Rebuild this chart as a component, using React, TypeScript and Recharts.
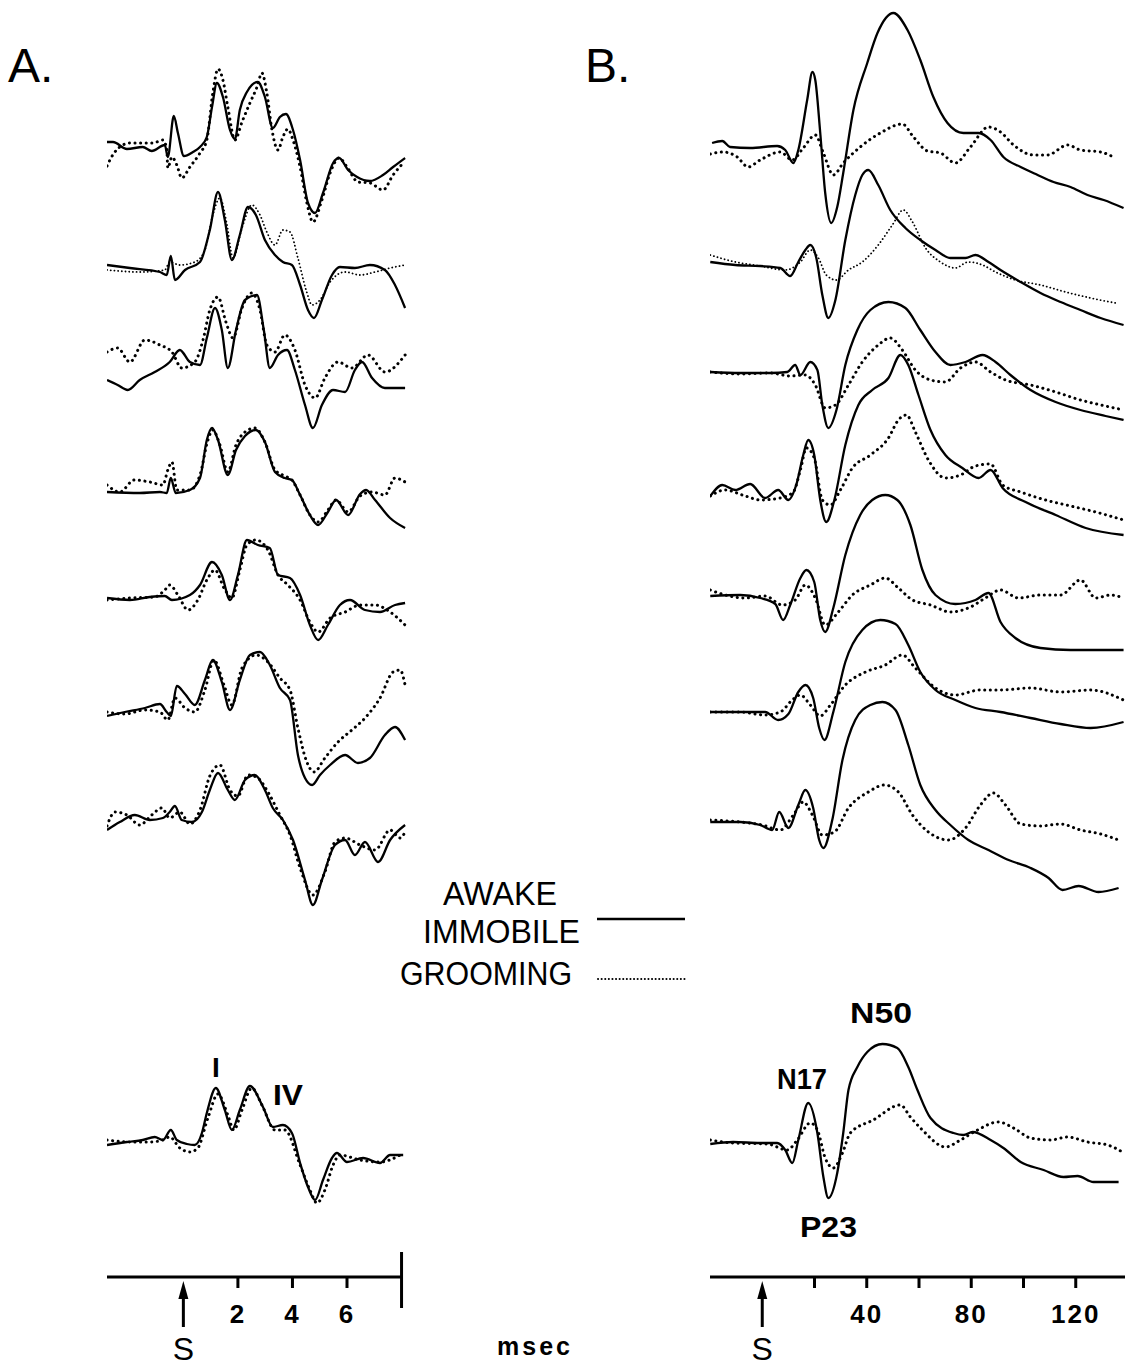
import React from "react";
import { LineChart, Line, XAxis, YAxis, ReferenceLine } from "recharts";

type Pt = [number, number];

// ---- Panel A: brainstem responses, time in msec, amplitude (positive up) ----
const A1_AWAKE: Pt[] = [[-2.8,3],[-2.58,3],[-2.07,-4],[-1.49,-2],[-1.16,-6],[-0.68,0],[-0.57,-12],[-0.35,29],[-0.2,12],[0.02,-11],[0.35,-7],[0.61,-2],[0.86,8],[1.05,38],[1.23,62],[1.45,48],[1.71,15],[1.89,6],[2.07,35],[2.33,53],[2.73,63],[2.99,48],[3.28,17],[3.54,28],[3.76,31],[4.02,15],[4.28,-15],[4.57,-58],[4.83,-68],[5.12,-48],[5.49,-18],[5.71,-13],[6.04,-25],[6.37,-32],[6.84,-36],[7.32,-30],[7.69,-22],[8.13,-13]];
const A1_GROOM: Pt[] = [[-2.8,-21],[-2.59,-10],[-2.33,-2],[-1.96,2],[-1.49,2],[-1.12,2],[-0.75,5],[-0.61,-4],[-0.57,-23],[-0.42,-12],[-0.24,-20],[-0.06,-33],[0.24,-22],[0.61,-8],[0.86,5],[1.08,52],[1.27,76],[1.45,65],[1.63,38],[1.89,5],[2.15,23],[2.44,42],[2.7,58],[2.88,72],[3.06,52],[3.25,15],[3.47,-5],[3.65,8],[3.83,16],[4.02,5],[4.28,-22],[4.53,-58],[4.75,-77],[5.08,-55],[5.38,-28],[5.71,-13],[6.0,-22],[6.4,-37],[6.84,-38],[7.32,-45],[7.69,-30],[8.06,-18]];
const A2_AWAKE: Pt[] = [[-2.8,3],[-1.96,0],[-0.86,-4],[-0.61,-7],[-0.46,12],[-0.31,-12],[0.06,-2],[0.61,6],[0.97,38],[1.27,76],[1.52,48],[1.78,8],[2.07,33],[2.37,61],[2.66,53],[2.99,28],[3.36,13],[3.65,6],[3.98,3],[4.28,-17],[4.57,-42],[4.79,-50],[5.08,-32],[5.45,-7],[5.74,1],[6.29,0],[6.84,3],[7.39,-2],[7.76,-17],[8.13,-40]];
const A2_GROOM: Pt[] = [[-2.8,-2],[-1.6,-4],[-0.68,-2],[-0.5,6],[-0.13,3],[0.42,6],[0.79,18],[1.08,53],[1.34,70],[1.6,43],[1.82,10],[2.15,40],[2.51,63],[2.81,53],[3.06,36],[3.36,23],[3.65,38],[3.91,36],[4.2,10],[4.5,-22],[4.72,-37],[5.01,-32],[5.38,-14],[5.93,-4],[6.48,-7],[7.03,-4],[7.58,0],[8.13,3]];
const A3_AWAKE: Pt[] = [[-2.8,-22],[-2.41,-27],[-2.04,-32],[-1.6,-22],[-1.05,-14],[-0.5,-4],[-0.13,8],[0.24,-4],[0.61,-7],[0.86,20],[1.16,50],[1.41,28],[1.63,-10],[1.93,28],[2.26,58],[2.7,63],[2.95,28],[3.17,-10],[3.47,3],[3.8,8],[4.09,-12],[4.46,-47],[4.75,-70],[5.08,-47],[5.49,-32],[5.93,-34],[6.29,-12],[6.55,-4],[6.92,-20],[7.39,-30],[8.13,-30]];
const A3_GROOM: Pt[] = [[-2.8,6],[-2.41,10],[-1.96,-4],[-1.41,18],[-0.86,13],[-0.42,6],[-0.06,-10],[0.42,-4],[0.72,18],[0.97,48],[1.27,61],[1.56,36],[1.82,20],[2.15,50],[2.51,65],[2.81,48],[3.06,13],[3.36,6],[3.72,23],[4.09,8],[4.46,-27],[4.83,-40],[5.19,-20],[5.67,-4],[6.18,-10],[6.77,3],[7.39,-14],[8.13,3]];
const A4_AWAKE: Pt[] = [[-2.8,-2],[-1.6,-3],[-0.86,-2],[-0.61,-3],[-0.46,12],[-0.28,-3],[0.24,0],[0.61,12],[0.86,50],[1.05,62],[1.27,50],[1.63,15],[1.93,40],[2.26,54],[2.66,60],[2.99,48],[3.36,18],[3.72,12],[3.98,10],[4.28,-5],[4.64,-25],[4.94,-35],[5.3,-22],[5.6,-10],[6.04,-25],[6.48,-4],[6.7,0],[7.03,-10],[7.58,-28],[8.13,-38]];
const A4_GROOM: Pt[] = [[-2.8,5],[-2.33,-2],[-1.8,10],[-1.23,8],[-0.75,5],[-0.57,20],[-0.42,28],[-0.24,0],[0.24,0],[0.61,15],[0.9,50],[1.08,60],[1.34,45],[1.63,18],[1.93,45],[2.26,58],[2.62,62],[2.99,48],[3.36,20],[3.72,14],[3.98,10],[4.28,-5],[4.64,-25],[4.94,-32],[5.3,-20],[5.6,-10],[6.04,-22],[6.48,-6],[6.92,-2],[7.39,-5],[7.76,12],[8.13,8]];
const A5_AWAKE: Pt[] = [[-2.8,0],[-1.96,-2],[-1.23,1],[-0.68,2],[-0.42,-2],[0.24,3],[0.61,13],[1.05,36],[1.41,23],[1.71,-2],[2.0,23],[2.33,58],[2.73,53],[3.17,50],[3.47,23],[3.91,20],[4.28,3],[4.64,-27],[4.94,-42],[5.3,-27],[5.74,-7],[6.11,-2],[6.66,-12],[7.21,-14],[7.76,-7],[8.13,-5]];
const A5_GROOM: Pt[] = [[-2.8,-2],[-1.96,0],[-1.05,1],[-0.68,8],[-0.5,13],[-0.2,3],[0.17,-12],[0.53,-2],[0.86,18],[1.16,28],[1.49,10],[1.78,0],[2.07,28],[2.33,53],[2.66,58],[3.1,48],[3.47,23],[3.83,13],[4.28,-2],[4.64,-24],[4.94,-34],[5.38,-20],[5.93,-14],[6.48,-7],[7.03,-7],[7.58,-14],[8.13,-27]];
const A6_AWAKE: Pt[] = [[-2.8,-4],[-2.15,0],[-1.41,4],[-0.86,8],[-0.61,0],[-0.46,-4],[-0.24,26],[0.06,18],[0.42,7],[0.79,32],[1.08,52],[1.41,30],[1.71,2],[2.07,32],[2.44,57],[2.81,60],[3.17,47],[3.54,24],[3.91,12],[4.2,-43],[4.46,-66],[4.72,-73],[5.01,-63],[5.38,-53],[5.93,-43],[6.4,-51],[6.84,-46],[7.39,-23],[7.76,-15],[8.13,-28]];
const A6_GROOM: Pt[] = [[-2.8,0],[-2.15,-2],[-1.41,2],[-0.86,0],[-0.57,-8],[-0.31,14],[0.06,4],[0.42,0],[0.79,22],[1.12,52],[1.49,27],[1.78,7],[2.15,44],[2.66,57],[3.1,50],[3.54,34],[3.91,22],[4.2,-16],[4.5,-48],[4.79,-60],[5.19,-46],[5.67,-30],[6.18,-18],[6.66,-6],[7.21,14],[7.69,40],[7.95,42],[8.13,27]];
const A7_AWAKE: Pt[] = [[-2.8,-12],[-2.33,-4],[-1.78,3],[-1.23,-2],[-0.75,0],[-0.5,6],[-0.31,12],[-0.06,-2],[0.31,-4],[0.68,6],[0.97,28],[1.27,45],[1.63,28],[1.89,18],[2.26,38],[2.62,43],[2.99,28],[3.28,10],[3.65,-2],[4.02,-22],[4.46,-62],[4.75,-87],[5.08,-62],[5.56,-27],[5.93,-22],[6.29,-37],[6.66,-24],[7.14,-44],[7.58,-22],[8.13,-7]];
const A7_GROOM: Pt[] = [[-2.8,-8],[-2.51,6],[-2.07,3],[-1.6,-7],[-1.16,3],[-0.79,10],[-0.5,0],[-0.13,6],[0.24,-6],[0.61,8],[0.97,42],[1.34,53],[1.71,28],[2.0,22],[2.37,43],[2.73,40],[3.1,26],[3.54,3],[3.91,-17],[4.28,-50],[4.75,-77],[5.19,-54],[5.56,-24],[5.93,-20],[6.48,-27],[7.03,-32],[7.58,-12],[7.95,-20],[8.13,-14]];
const A_AVG_AWAKE: Pt[] = [[-2.8,-3],[-2.07,0],[-1.49,2],[-1.05,5],[-0.75,2],[-0.46,12],[-0.24,2],[0.13,-2],[0.42,-3],[0.68,9],[0.86,29],[1.19,54],[1.52,32],[1.78,12],[2.07,32],[2.44,56],[2.92,35],[3.28,15],[3.65,17],[3.98,9],[4.28,-21],[4.57,-45],[4.83,-58],[5.12,-38],[5.45,-16],[5.63,-11],[6.0,-20],[6.59,-16],[7.21,-21],[7.58,-13],[8.06,-13]];
const A_AVG_GROOM: Pt[] = [[-2.8,2],[-1.96,0],[-1.23,0],[-0.75,2],[-0.5,5],[-0.13,-6],[0.24,-10],[0.53,-6],[0.9,24],[1.27,48],[1.63,27],[1.85,12],[2.15,32],[2.51,54],[2.88,37],[3.36,12],[3.72,12],[4.28,-23],[4.64,-48],[4.9,-61],[5.19,-48],[5.49,-23],[5.74,-13],[6.48,-18],[7.21,-20],[7.95,-13]];

// ---- Panel B: middle-latency responses, time in msec ----
const B1_AWAKE: Pt[] = [[-19.2,2],[-15.3,4],[-12.3,-2],[-4.6,-3],[5.7,-1],[8.8,-5],[11.9,-18],[13.8,-5],[17.2,45],[19.2,73],[20.3,65],[22.2,12],[24.1,-48],[26.4,-78],[28.7,-62],[31.0,-28],[34.9,35],[40.2,82],[44.1,112],[50.2,132],[55.6,115],[60.5,85],[65.5,48],[70.9,22],[77.0,12],[82.8,12],[87.4,5],[92.3,-12],[98.9,-22],[105.4,-30],[111.5,-37],[118.0,-42],[124.5,-50],[130.7,-55],[138.3,-63]];
const B1_GROOM: Pt[] = [[-19.9,-9],[-14.9,-7],[-9.6,-12],[-5.4,-22],[-0.8,-15],[6.9,-7],[11.5,-15],[15.7,-3],[20.3,10],[23.4,-8],[27.2,-30],[31.0,-18],[37.5,-2],[45.2,12],[53.6,21],[57.9,8],[63.2,-6],[68.2,-8],[73.9,-18],[79.7,-2],[86.6,18],[91.2,13],[96.2,0],[103.8,-10],[109.2,-10],[116.9,0],[121.8,-5],[129.5,-7],[135.2,-13]];
const B2_AWAKE: Pt[] = [[-19.9,0],[-10.3,-3],[-0.8,-4],[6.9,-6],[10.7,-14],[13.8,0],[16.5,12],[18.4,17],[20.7,4],[23.0,-33],[25.3,-56],[28.0,-38],[31.8,22],[35.6,67],[38.3,87],[40.6,92],[44.4,77],[49.0,52],[54.8,34],[60.5,22],[66.3,12],[72.0,4],[77.8,4],[81.6,7],[86.6,0],[91.2,-8],[98.9,-20],[106.5,-31],[114.2,-40],[121.8,-48],[129.5,-56],[138.3,-63]];
const B2_GROOM: Pt[] = [[-19.9,7],[-10.3,0],[-0.8,-4],[8.8,-8],[14.6,0],[18.4,12],[21.5,4],[24.5,-13],[28.4,-18],[33.0,-8],[38.3,0],[44.4,17],[49.8,37],[54.0,52],[57.5,40],[62.5,14],[68.2,0],[73.9,-6],[78.9,0],[84.3,-3],[89.3,-10],[96.9,-18],[106.5,-23],[116.1,-30],[125.7,-36],[135.2,-41]];
const B3_AWAKE: Pt[] = [[-19.9,0],[-8.4,-1],[3.1,-1],[9.6,0],[12.6,7],[14.6,-3],[18.4,10],[21.1,2],[23.0,-33],[25.3,-56],[28.4,-38],[31.8,7],[36.4,42],[41.4,62],[48.3,70],[54.8,64],[60.5,42],[66.3,20],[72.0,7],[77.8,10],[84.3,17],[89.3,10],[95.0,-3],[102.7,-18],[112.3,-30],[121.8,-38],[131.4,-44],[138.3,-48]];
const B3_GROOM: Pt[] = [[-19.9,0],[-8.4,-2],[3.1,-1],[10.7,-4],[16.5,-3],[20.3,-13],[24.1,-36],[28.0,-33],[33.0,-13],[38.3,10],[44.4,27],[49.0,34],[53.6,22],[58.6,2],[64.4,-8],[70.1,-10],[75.9,4],[81.6,10],[87.4,0],[93.1,-8],[102.7,-13],[112.3,-20],[121.8,-28],[131.4,-34],[138.3,-38]];
const B4_AWAKE: Pt[] = [[-19.9,-4],[-15.3,7],[-10.3,2],[-4.6,8],[1.1,-6],[6.1,2],[10.0,-8],[13.0,7],[15.7,37],[17.6,52],[19.9,37],[22.2,-8],[24.5,-30],[27.6,-8],[31.8,47],[36.8,87],[42.1,102],[48.3,114],[52.9,137],[55.9,127],[59.8,97],[64.4,62],[70.1,37],[76.6,24],[82.8,14],[87.4,22],[92.0,4],[100.8,-10],[112.3,-23],[123.8,-36],[138.3,-43]];
const B4_GROOM: Pt[] = [[-19.9,-4],[-14.2,2],[-6.5,-4],[-0.8,-8],[6.9,-6],[11.9,0],[14.6,22],[16.9,44],[19.9,34],[23.0,-8],[26.1,-13],[29.9,2],[34.5,24],[41.4,37],[48.3,54],[52.1,72],[55.2,77],[58.6,60],[63.6,32],[70.1,14],[75.9,17],[81.6,26],[87.4,28],[92.0,7],[98.9,0],[108.4,-8],[118.0,-14],[127.6,-20],[138.3,-28]];
const B5_AWAKE: Pt[] = [[-19.9,0],[-8.4,1],[-0.8,-2],[5.0,-8],[8.0,-24],[10.7,-9],[14.6,18],[16.9,26],[19.9,14],[22.2,-24],[24.1,-36],[27.2,-12],[31.8,41],[37.5,81],[42.1,96],[47.1,101],[51.7,96],[56.7,71],[61.3,26],[66.3,1],[73.9,-8],[81.6,-4],[86.6,3],[91.2,-26],[96.9,-42],[106.5,-52],[118.0,-54],[129.5,-54],[138.3,-54]];
const B5_GROOM: Pt[] = [[-19.9,6],[-14.2,1],[-6.5,-2],[1.1,0],[7.7,-9],[12.6,-4],[16.5,11],[20.3,-2],[24.1,-29],[29.1,-16],[34.5,1],[41.4,11],[47.1,18],[52.1,8],[57.5,-4],[64.4,-9],[72.0,-16],[79.7,-11],[85.4,-2],[91.2,6],[98.1,-2],[106.5,1],[114.2,1],[121.8,16],[127.6,-2],[133.3,1],[138.3,-2]];
const B6_AWAKE: Pt[] = [[-19.9,0],[-8.4,0],[1.1,0],[6.1,-8],[10.0,-2],[13.8,20],[16.5,27],[19.5,14],[21.8,-16],[23.8,-28],[27.2,0],[31.8,50],[38.3,82],[45.2,92],[51.0,88],[55.9,67],[60.5,40],[66.3,22],[73.9,12],[81.6,4],[91.2,0],[102.7,-6],[114.2,-12],[125.7,-16],[138.3,-10]];
const B6_GROOM: Pt[] = [[-19.9,0],[-8.4,0],[1.1,-3],[6.9,0],[11.5,12],[14.6,17],[18.4,7],[22.2,-4],[26.1,7],[31.8,27],[39.5,40],[47.1,47],[53.6,57],[58.6,44],[66.3,24],[73.9,17],[83.5,22],[91.2,22],[102.7,24],[114.2,20],[125.7,22],[138.3,12]];
const B7_AWAKE: Pt[] = [[-19.9,0],[-8.4,0],[-0.8,-3],[3.8,-8],[6.5,10],[10.0,-6],[13.8,17],[16.5,32],[19.5,14],[21.8,-18],[23.4,-26],[26.8,2],[30.7,62],[35.6,102],[41.4,117],[46.0,120],[51.0,112],[55.9,77],[60.5,37],[66.3,12],[72.0,-3],[78.9,-18],[86.6,-28],[94.3,-38],[102.7,-46],[109.6,-56],[114.9,-68],[121.1,-64],[128.7,-70],[136.4,-66]];
const B7_GROOM: Pt[] = [[-19.9,2],[-8.4,0],[0,-3],[6.9,-8],[11.9,7],[15.7,20],[19.2,7],[23.0,-13],[27.6,-10],[33.0,14],[40.6,30],[46.7,37],[52.1,30],[57.5,7],[63.6,-10],[71.3,-18],[77.8,-6],[83.5,17],[88.5,29],[93.1,17],[98.9,-2],[106.5,-4],[114.2,-2],[121.8,-8],[129.5,-12],[136.4,-18]];
const B_AVG_AWAKE: Pt[] = [[-19.9,-2],[-11.1,0],[-0.8,-1],[5.7,-1],[8.8,-8],[11.5,-21],[13.8,2],[17.6,39],[21.1,9],[23.4,-35],[25.3,-56],[28.7,-31],[31.0,9],[33.0,52],[36.4,75],[40.2,90],[46.0,98],[51.7,94],[55.9,75],[59.4,52],[64.4,24],[73.2,9],[77.0,7],[80.5,10],[87.4,2],[92.3,-6],[98.9,-20],[107.7,-28],[115.3,-35],[120.7,-34],[126.8,-40],[136.4,-40]];
const B_AVG_GROOM: Pt[] = [[-19.9,2],[-11.1,-1],[1.9,-2],[9.6,-8],[13.4,2],[18.4,19],[21.1,12],[24.1,-16],[27.2,-26],[30.7,-11],[33.7,9],[42.5,22],[52.9,37],[56.7,25],[61.3,12],[70.1,-5],[75.9,2],[82.4,12],[90.4,20],[96.2,14],[102.7,4],[110.3,2],[116.9,5],[124.5,0],[132.2,-3],[137.9,-10]];

const A_TICKS = [0, 2, 4, 6, 8];
const A_LABELED = [2, 4, 6];
const B_TICKS = [0, 20, 40, 60, 80, 100, 120];
const B_LABELED = [40, 80, 120];

// layout
const A_DOMAIN: [number, number] = [-2.8, 8.2];
const B_DOMAIN: [number, number] = [-20, 140];
const A_LEFT = 107;
const A_WIDTH = 300;
const B_LEFT = 710;
const B_WIDTH = 418;
const HALF = 150;
const AXIS_Y = 1277;
const AVG_BASE = 1142;
const A_BASES = [145, 268, 358, 490, 598, 712, 818];
const B_BASES = [145, 262, 372, 492, 596, 712, 822];
const FONT = "'Liberation Sans', Arial, Helvetica, sans-serif";

const A_PAIRS: [Pt[], Pt[], boolean][] = [
  [A1_AWAKE, A1_GROOM, false],
  [A2_AWAKE, A2_GROOM, true],
  [A3_AWAKE, A3_GROOM, false],
  [A4_AWAKE, A4_GROOM, false],
  [A5_AWAKE, A5_GROOM, false],
  [A6_AWAKE, A6_GROOM, false],
  [A7_AWAKE, A7_GROOM, false],
];
const B_PAIRS: [Pt[], Pt[], boolean][] = [
  [B1_AWAKE, B1_GROOM, false],
  [B2_AWAKE, B2_GROOM, true],
  [B3_AWAKE, B3_GROOM, false],
  [B4_AWAKE, B4_GROOM, false],
  [B5_AWAKE, B5_GROOM, false],
  [B6_AWAKE, B6_GROOM, false],
  [B7_AWAKE, B7_GROOM, false],
];

const toRows = (pts: Pt[]) => pts.map(([t, v]) => ({ t, v }));

function AxisTick(props: any) {
  const { x, y, payload, labeled, endMark } = props;
  const v = payload.value;
  if (v === 0) {
    return (
      <g>
        <polygon points={`${x},${y + 4} ${x - 5},${y + 22} ${x + 5},${y + 22}`} fill="#000" />
        <line x1={x} x2={x} y1={y + 18} y2={y + 50} stroke="#000" strokeWidth={3} />
        <text x={x} y={y + 83} textAnchor="middle" fontFamily={FONT} fontSize={32} fill="#000">
          S
        </text>
      </g>
    );
  }
  if (v === endMark) {
    return <line x1={x} x2={x} y1={y - 25} y2={y + 31} stroke="#000" strokeWidth={3} />;
  }
  return (
    <g>
      <line x1={x} x2={x} y1={y} y2={y + 11} stroke="#000" strokeWidth={3} />
      {labeled.includes(v) && (
        <text x={x} y={y + 46} textAnchor="middle" fontFamily={FONT} fontWeight="bold" fontSize={26} letterSpacing={2} fill="#000">
          {v}
        </text>
      )}
    </g>
  );
}

function Trace(props: {
  left: number;
  width: number;
  base: number;
  domain: [number, number];
  awake: Pt[];
  groom: Pt[];
  fine: boolean;
  axis?: { ticks: number[]; labeled: number[]; endMark?: number; lineEnd: number };
}) {
  const { left, width, base, domain, awake, groom, fine, axis } = props;
  const lo = axis ? -(AXIS_Y - base) : -HALF;
  const plotH = HALF - lo;
  const axisH = axis ? 90 : 0;
  return (
    <div style={{ position: "absolute", left, top: base - HALF }}>
      <LineChart width={width} height={plotH + axisH} margin={{ top: 0, right: 0, bottom: 0, left: 0 }}>
        <XAxis
          type="number"
          dataKey="t"
          domain={domain}
          allowDataOverflow
          hide={!axis}
          height={axisH}
          ticks={axis ? axis.ticks : undefined}
          interval={0}
          axisLine={false}
          tickLine={false}
          tickSize={0}
          tickMargin={0}
          tick={(p: any) => <AxisTick {...p} labeled={axis ? axis.labeled : []} endMark={axis ? axis.endMark : undefined} />}
        />
        <YAxis hide type="number" domain={[lo, HALF]} allowDataOverflow />
        {axis && (
          <ReferenceLine
            segment={[{ x: domain[0], y: lo }, { x: axis.lineEnd, y: lo }]}
            stroke="#000"
            strokeWidth={3}
            ifOverflow="visible"
          />
        )}
        <Line
          data={toRows(groom)}
          dataKey="v"
          type="monotone"
          stroke="#000"
          strokeWidth={fine ? 1.8 : 3}
          strokeDasharray={fine ? "0.1 3.6" : "0.1 5.5"}
          strokeLinecap="round"
          dot={false}
          activeDot={false}
          isAnimationActive={false}
        />
        <Line
          data={toRows(awake)}
          dataKey="v"
          type="monotone"
          stroke="#000"
          strokeWidth={2.3}
          dot={false}
          activeDot={false}
          isAnimationActive={false}
        />
      </LineChart>
    </div>
  );
}

export default function App() {
  return (
    <div style={{ position: "absolute", left: 0, top: 0, width: 1125, height: 1368, background: "#fff", overflow: "hidden", fontFamily: FONT }}>
      {A_PAIRS.map(([aw, gr, fine], i) => (
        <Trace key={`a${i}`} left={A_LEFT} width={A_WIDTH} base={A_BASES[i]} domain={A_DOMAIN} awake={aw} groom={gr} fine={fine} />
      ))}
      <Trace
        left={A_LEFT}
        width={A_WIDTH}
        base={AVG_BASE}
        domain={A_DOMAIN}
        awake={A_AVG_AWAKE}
        groom={A_AVG_GROOM}
        fine={false}
        axis={{ ticks: A_TICKS, labeled: A_LABELED, endMark: 8, lineEnd: 8 }}
      />
      {B_PAIRS.map(([aw, gr, fine], i) => (
        <Trace key={`b${i}`} left={B_LEFT} width={B_WIDTH} base={B_BASES[i]} domain={B_DOMAIN} awake={aw} groom={gr} fine={fine} />
      ))}
      <Trace
        left={B_LEFT}
        width={B_WIDTH}
        base={AVG_BASE}
        domain={B_DOMAIN}
        awake={B_AVG_AWAKE}
        groom={B_AVG_GROOM}
        fine={false}
        axis={{ ticks: B_TICKS, labeled: B_LABELED, lineEnd: 140 }}
      />
      <svg width={1125} height={1368} style={{ position: "absolute", left: 0, top: 0, pointerEvents: "none" }}>
        <g fontFamily={FONT} fill="#000">
          <text x={8} y={82} fontSize={48}>A.</text>
          <text x={585} y={82} fontSize={48}>B.</text>
          <text x={500} y={905} fontSize={34} textAnchor="middle" textLength={114} lengthAdjust="spacingAndGlyphs">AWAKE</text>
          <text x={423} y={943} fontSize={34} textLength={157} lengthAdjust="spacingAndGlyphs">IMMOBILE</text>
          <text x={400} y={985} fontSize={34} textLength={172} lengthAdjust="spacingAndGlyphs">GROOMING</text>
          <text x={216} y={1077} fontSize={28} fontWeight="bold" textAnchor="middle">I</text>
          <text x={273} y={1105} fontSize={30} fontWeight="bold" textLength={30} lengthAdjust="spacingAndGlyphs">IV</text>
          <text x={850} y={1023} fontSize={29} fontWeight="bold" textLength={62} lengthAdjust="spacingAndGlyphs">N50</text>
          <text x={777} y={1089} fontSize={29} fontWeight="bold" textLength={50} lengthAdjust="spacingAndGlyphs">N17</text>
          <text x={800} y={1237} fontSize={30} fontWeight="bold" textLength={57} lengthAdjust="spacingAndGlyphs">P23</text>
          <text x={535} y={1355} fontSize={25} fontWeight="bold" letterSpacing={3} textAnchor="middle">msec</text>
        </g>
        <line x1={597} x2={685} y1={919} y2={919} stroke="#000" strokeWidth={2.5} />
        <line x1={598} x2={685} y1={979} y2={979} stroke="#000" strokeWidth={2} strokeDasharray="0.1 3.5" strokeLinecap="round" />
      </svg>
    </div>
  );
}
